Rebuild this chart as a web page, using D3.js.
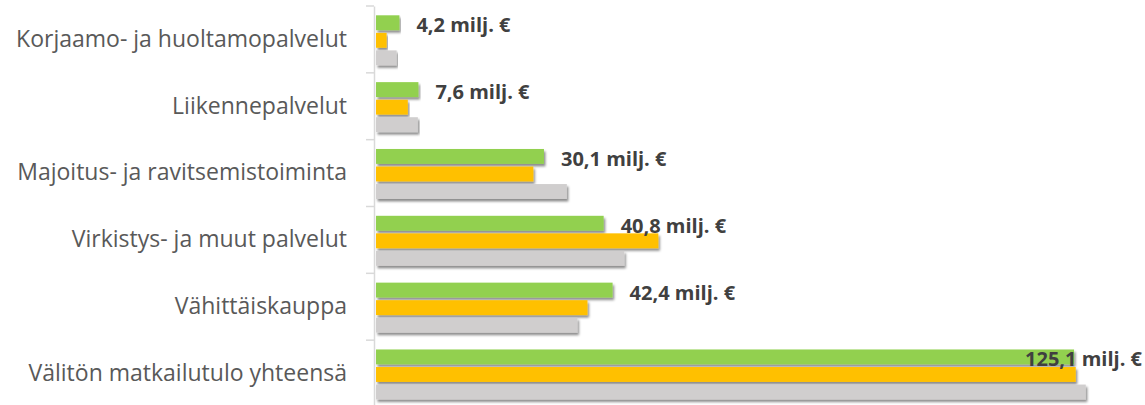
<!DOCTYPE html>
<html>
<head>
<meta charset="utf-8">
<script src="https://cdn.jsdelivr.net/npm/d3@7"></script>
<style>
  body { margin: 0; background: #fff; }
  svg { display: block; }
</style>
</head>
<body>
<svg id="chart"></svg>
<script>
const CHART_WIDTH = 1145;
const CHART_HEIGHT = 405;

const CATEGORIES = ["Korjaamo- ja huoltamopalvelut", "Liikennepalvelut", "Majoitus- ja ravitsemistoiminta",
  "Virkistys- ja muut palvelut", "Vähittäiskauppa", "Välitön matkailutulo yhteensä"];
const SERIES = ["s1", "s2", "s3"];
const GREEN_VALUES = [4.2, 7.6, 30.1, 40.8, 42.4, 125.1];
const ORANGE_VALUES = [1.9, 5.7, 28.2, 50.6, 37.9, 125.4];
const GRAY_VALUES = [3.7, 7.5, 34.2, 44.5, 36.1, 127.2];
const LABELS = ["4,2 milj. €", "7,6 milj. €", "30,1 milj. €", "40,8 milj. €", "42,4 milj. €", "125,1 milj. €"];
const COLORS = ["#92d050", "#ffc000", "#d0cece"];

const svg = d3.select('#chart')
    .attr("width", CHART_WIDTH)
    .attr("height", CHART_HEIGHT)

const shadow = svg.append("defs").append("filter")
    .attr("id", "shadow")
    .attr("x", "-5%").attr("y", "-50%")
    .attr("width", "110%").attr("height", "200%")
shadow.append("feDropShadow")
    .attr("dx", 1.5).attr("dy", 2.5)
    .attr("stdDeviation", 1.2)
    .attr("flood-color", "#000")
    .attr("flood-opacity", 0.45)

const x = d3.scaleLinear()
    .domain([0, 130])
    .range([376, 376 + 130 * 5.58])

const y = d3.scaleBand()
    .domain(CATEGORIES)
    .range([6, 407])

const ySub = d3.scaleBand()
    .domain(SERIES)
    .range([9.3, 59.3])
    .paddingInner(0.15)

// axis with outside ticks
const axis = svg.append("g")
    .attr("transform", "translate(374,0)")
    .call(d3.axisLeft(y).tickSize(0).tickPadding(27))
axis.select(".domain").attr("stroke", "#d9d9d9").attr("stroke-width", 1.5)
axis.selectAll(".tick text")
    .attr("fill", "#595959")
    .attr("font-family", "'Open Sans', sans-serif")
    .attr("font-size", 23)

svg.append("g")
    .selectAll("line")
    .data(d3.range(CATEGORIES.length + 1))
    .join("line")
    .attr("x1", 366).attr("x2", 374)
    .attr("y1", i => i < CATEGORIES.length ? y(CATEGORIES[i]) : y.range()[1])
    .attr("y2", i => i < CATEGORIES.length ? y(CATEGORIES[i]) : y.range()[1])
    .attr("stroke", "#d9d9d9")
    .attr("stroke-width", 1.5)

const rows = CATEGORIES.map((c, i) => ({
    cat: c,
    values: [GREEN_VALUES[i], ORANGE_VALUES[i], GRAY_VALUES[i]],
    label: LABELS[i]
}))

const groups = svg.append("g")
    .selectAll("g")
    .data(rows)
    .join("g")
    .attr("transform", d => `translate(0,${y(d.cat)})`)

groups.selectAll("rect")
    .data(d => d.values.map((v, k) => ({ key: SERIES[k], v: v, color: COLORS[k] })))
    .join("rect")
    .attr("x", x(0))
    .attr("y", d => ySub(d.key))
    .attr("width", d => x(d.v) - x(0))
    .attr("height", ySub.bandwidth())
    .attr("fill", d => d.color)
    .attr("filter", "url(#shadow)")

groups.append("text")
    .attr("y", ySub(SERIES[0]) + ySub.bandwidth() / 2 + 9.5)
    .attr("font-family", "'Open Sans', sans-serif")
    .attr("font-weight", "bold")
    .attr("font-size", 20)
    .attr("fill", "#404040")
    .text(d => d.label)
    .each(function(d) {
        const w = this.getComputedTextLength()
        let pos = x(d.values[0]) + 17
        if (pos + w > CHART_WIDTH - 3) pos = CHART_WIDTH - 3 - w
        d3.select(this).attr("x", pos)
    })
</script>
</body>
</html>
